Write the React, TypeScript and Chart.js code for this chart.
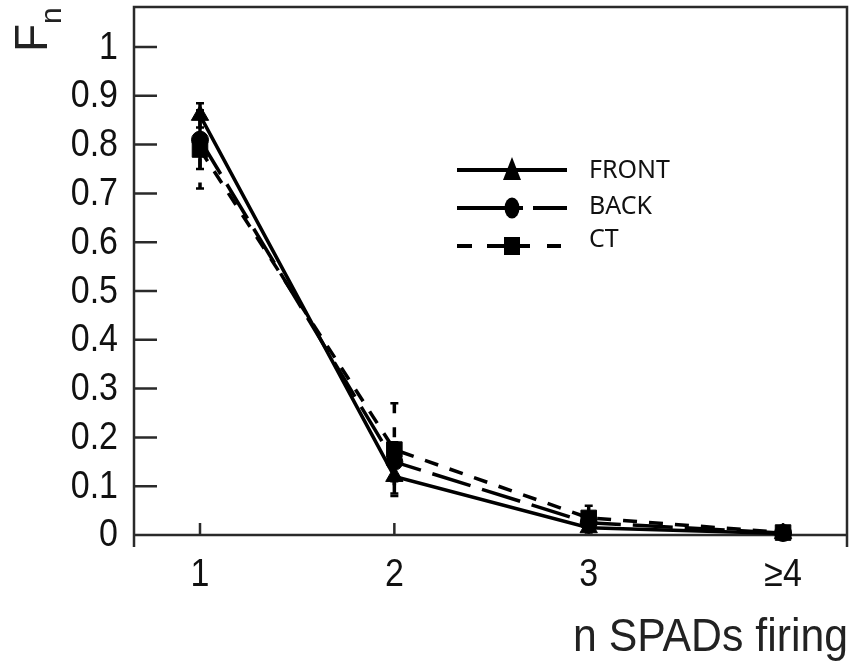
import React, { useEffect, useRef } from 'react';
import { Chart, registerables } from 'chart.js';

Chart.register(...registerables);

// ---- data ----
const seriesNames = ['FRONT', 'BACK', 'CT'];
const xValues = [1, 2, 3, 4];
const xTickLabels = ['1', '2', '3', '≥4'];
const frontValues = [0.86, 0.12, 0.015, 0.003];
const frontErrors = [0.025, 0.035, 0.01, 0.008];
const backValues = [0.81, 0.15, 0.025, 0.004];
const backErrors = [0.06, 0.04, 0.012, 0.008];
const ctValues = [0.79, 0.175, 0.035, 0.005];
const ctErrors = [0.08, 0.095, 0.025, 0.008];
const yTickValues = [0, 0.1, 0.2, 0.3, 0.4, 0.5, 0.6, 0.7, 0.8, 0.9, 1];
const yTickLabels = ['0', '0.1', '0.2', '0.3', '0.4', '0.5', '0.6', '0.7', '0.8', '0.9', '1'];
const xAxisTitle = 'n SPADs firing';
const yAxisTitle = 'F';
const yAxisSubscript = 'n';

const INK = '#111';
const FRAME = '#2a2a2a';
const TICK_FONT = '34px "Liberation Sans", Arial, sans-serif';
const dashes: number[][] = [[], [40, 12], [14, 12]];
const errDashes: number[][] = [[], [], [10, 14]];
const errors = [frontErrors, backErrors, ctErrors];

const toPoints = (vals: number[]) => xValues.map((x, i) => ({ x, y: vals[i] }));

const stretchedText = (ctx: any, text: string, x: number, y: number) => {
  ctx.save();
  ctx.translate(x, y);
  ctx.scale(1, 1.12);
  ctx.fillText(text, 0, 0);
  ctx.restore();
};

const framePlugin = {
  id: 'frame',
  beforeDatasetsDraw(chart: any) {
    const { ctx, chartArea: ca, scales } = chart;
    const xs = scales.x;
    const ys = scales.y;
    const y0 = ys.getPixelForValue(0);
    ctx.save();
    ctx.strokeStyle = FRAME;
    ctx.lineWidth = 2.5;
    ctx.beginPath();
    ctx.moveTo(ca.left, ca.bottom);
    ctx.lineTo(ca.left, ca.top);
    ctx.lineTo(ca.right, ca.top);
    ctx.lineTo(ca.right, ca.bottom);
    ctx.moveTo(ca.left, y0);
    ctx.lineTo(ca.right, y0);
    yTickValues.forEach((v) => {
      if (v === 0) return;
      const p = ys.getPixelForValue(v);
      ctx.moveTo(ca.left, p);
      ctx.lineTo(ca.left + 23, p);
    });
    xValues.forEach((v) => {
      const p = xs.getPixelForValue(v);
      ctx.moveTo(p, y0);
      ctx.lineTo(p, y0 - 12);
    });
    ctx.stroke();

    // tick labels
    ctx.fillStyle = INK;
    ctx.font = TICK_FONT;
    ctx.textAlign = 'right';
    ctx.textBaseline = 'middle';
    yTickValues.forEach((v, i) => {
      stretchedText(ctx, yTickLabels[i], ca.left - 16, ys.getPixelForValue(v) + 1);
    });
    ctx.textAlign = 'center';
    xValues.forEach((v, i) => {
      stretchedText(ctx, xTickLabels[i], xs.getPixelForValue(v), ca.bottom + 28);
    });

    // error bars
    chart.data.datasets.forEach((ds: any, di: number) => {
      const errs = errors[di];
      ctx.strokeStyle = '#000';
      ds.data.forEach((pt: any, i: number) => {
        const px = xs.getPixelForValue(pt.x);
        const top = ys.getPixelForValue(pt.y + errs[i]);
        const bot = ys.getPixelForValue(pt.y - errs[i]);
        ctx.lineWidth = 3.5;
        ctx.setLineDash(errDashes[di]);
        ctx.beginPath();
        ctx.moveTo(px, top);
        ctx.lineTo(px, bot);
        ctx.stroke();
        ctx.setLineDash([]);
        ctx.lineWidth = 2.5;
        ctx.beginPath();
        ctx.moveTo(px - 4, top);
        ctx.lineTo(px + 4, top);
        ctx.moveTo(px - 4, bot);
        ctx.lineTo(px + 4, bot);
        ctx.stroke();
      });
    });
    ctx.restore();
  },
  afterDraw(chart: any) {
    const { ctx } = chart;
    ctx.save();
    ctx.fillStyle = '#222';
    // x axis title
    ctx.font = '46px "Liberation Sans", Arial, sans-serif';
    const w = ctx.measureText(xAxisTitle).width;
    ctx.translate(848, 651);
    ctx.scale(275 / w, 1);
    ctx.textAlign = 'right';
    ctx.textBaseline = 'alphabetic';
    ctx.fillText(xAxisTitle, 0, 0);
    ctx.restore();

    // y axis title (rotated)
    ctx.save();
    ctx.fillStyle = '#222';
    ctx.translate(47, 50);
    ctx.rotate(-Math.PI / 2);
    ctx.textAlign = 'left';
    ctx.textBaseline = 'alphabetic';
    ctx.font = '46px "Liberation Sans", Arial, sans-serif';
    ctx.fillText(yAxisTitle, -2, 0);
    ctx.font = '30px "Liberation Sans", Arial, sans-serif';
    ctx.fillText(yAxisSubscript, 26, 14);
    ctx.restore();

    // legend
    ctx.save();
    ctx.strokeStyle = '#000';
    ctx.fillStyle = '#000';
    ctx.lineWidth = 4;
    const lx = 512;
    const rows = [170, 208, 246];
    const segs = [
      [[457, 567]],
      [[457, 523], [533, 567]],
      [[457, 472], [487, 530], [547, 561]],
    ];
    rows.forEach((ry, r) => {
      ctx.beginPath();
      segs[r].forEach(([a, b]) => {
        ctx.moveTo(a, ry);
        ctx.lineTo(b, ry);
      });
      ctx.stroke();
      ctx.beginPath();
      if (r === 0) {
        ctx.moveTo(lx, ry - 13);
        ctx.lineTo(lx + 9, ry + 10);
        ctx.lineTo(lx - 9, ry + 10);
        ctx.closePath();
      } else if (r === 1) {
        ctx.ellipse(lx, ry, 7.5, 10.5, 0, 0, Math.PI * 2);
      } else {
        ctx.rect(lx - 8, ry - 9, 16, 18);
      }
      ctx.fill();
    });
    ctx.font = '25px "Noto Sans", "Open Sans", sans-serif';
    ctx.fillStyle = INK;
    ctx.textAlign = 'left';
    ctx.textBaseline = 'middle';
    const textRows = [171, 207, 240];
    seriesNames.forEach((n, i) => ctx.fillText(n, 589, textRows[i]));
    ctx.restore();
  },
};

export default function App() {
  const ref = useRef<HTMLCanvasElement>(null);
  useEffect(() => {
    const canvas = ref.current!;
    const makeDs = (label: string, vals: number[], i: number, style: string, radius: number) => ({
      label,
      data: toPoints(vals),
      borderColor: '#000',
      backgroundColor: '#000',
      borderWidth: 3.5,
      borderDash: dashes[i],
      tension: 0,
      pointStyle: style,
      pointRadius: radius,
      pointHoverRadius: radius,
      pointBorderWidth: 1,
      pointBackgroundColor: '#000',
      pointBorderColor: '#000',
      clip: false as any,
    });
    const chart = new Chart(canvas, {
      type: 'line',
      data: {
        datasets: [
          makeDs(seriesNames[0], frontValues, 0, 'triangle', 10),
          makeDs(seriesNames[1], backValues, 1, 'circle', 8.5),
          makeDs(seriesNames[2], ctValues, 2, 'rect', 11),
        ],
      },
      options: {
        animation: false,
        responsive: false,
        devicePixelRatio: 1,
        layout: { autoPadding: false, padding: { top: 7, right: 6, left: 0, bottom: 0 } },
        plugins: { legend: { display: false }, tooltip: { enabled: false } },
        scales: {
          x: {
            type: 'linear',
            position: 'bottom',
            min: 0.6604,
            max: 4.329,
            grid: { display: false, drawTicks: false },
            border: { display: false },
            afterBuildTicks: (s: any) => {
              s.ticks = xValues.map((v) => ({ value: v }));
            },
            afterFit: (s: any) => {
              s.height = 118;
            },
            ticks: { display: false },
          },
          y: {
            type: 'linear',
            min: -0.0246,
            max: 1.082,
            grid: { display: false, drawTicks: false },
            border: { display: false },
            afterBuildTicks: (s: any) => {
              s.ticks = yTickValues.map((v) => ({ value: v }));
            },
            afterFit: (s: any) => {
              s.width = 134;
            },
            ticks: { display: false },
          },
        },
      },
      plugins: [framePlugin],
    } as any);
    return () => chart.destroy();
  }, []);
  return (
    <div style={{ position: 'absolute', left: 0, top: 0, width: 853, height: 665, background: '#fff' }}>
      <canvas ref={ref} width={853} height={665} style={{ display: 'block', width: 853, height: 665 }} />
    </div>
  );
}
